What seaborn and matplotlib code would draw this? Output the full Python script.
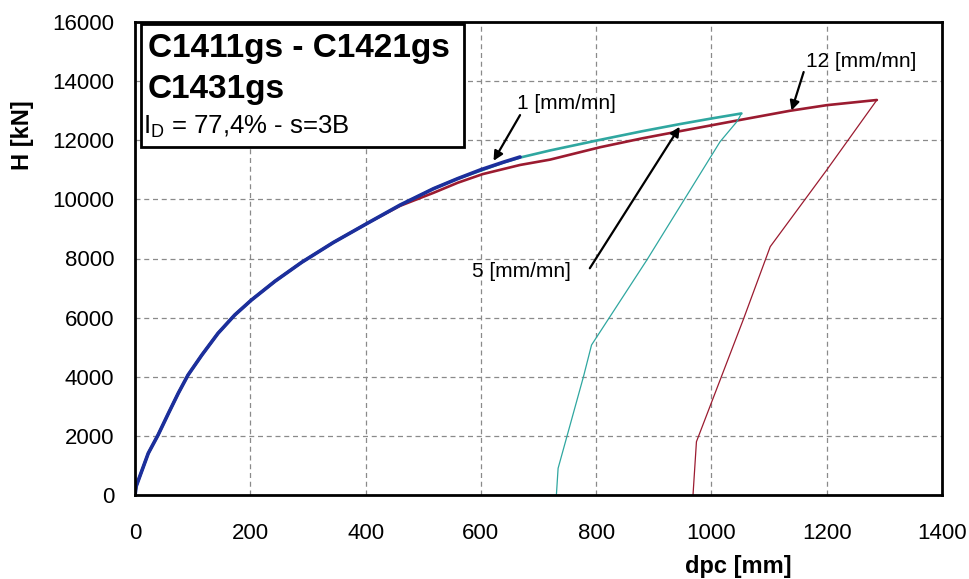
import matplotlib
matplotlib.use("Agg")
import matplotlib.pyplot as plt
import seaborn as sns
import pandas as pd
from matplotlib.patches import Rectangle

# ---------------- data ----------------
# loading branch, rate 1 mm/mn
v1_x = [0, 2, 6, 23, 40, 58, 75, 92, 116, 144, 173, 202, 243, 289, 344, 404, 460, 518, 560, 600, 640, 668]
v1_y = [0, 300, 517, 1419, 2037, 2770, 3446, 4064, 4740, 5473, 6091, 6598, 7234, 7869, 8540, 9200, 9807, 10360, 10700, 11000, 11260, 11430]

# loading branch, rate 5 mm/mn
v5_x = [0, 2, 6, 23, 40, 58, 75, 92, 116, 144, 173, 202, 243, 289, 344, 404, 460, 518, 560, 600, 640, 668, 720, 807, 880, 945, 1000, 1052]
v5_y = [0, 300, 517, 1419, 2037, 2770, 3446, 4064, 4740, 5473, 6091, 6598, 7234, 7869, 8540, 9200, 9807, 10360, 10700, 10970, 11250, 11410, 11650, 12010, 12300, 12540, 12730, 12900]
# unloading branch, rate 5 mm/mn
u5_x = [1052, 1048, 1044, 1015, 888, 792, 778, 734, 731, 685]
u5_y = [12900, 12750, 12620, 11946, 7950, 5078, 4007, 912, 0, 0]

# loading branch, rate 12 mm/mn
v12_x = [0, 2, 6, 23, 40, 58, 75, 92, 116, 144, 173, 202, 243, 289, 344, 404, 460, 518, 560, 603, 668, 720, 807, 880, 945, 1044, 1136, 1200, 1287]
v12_y = [0, 300, 517, 1419, 2037, 2770, 3446, 4064, 4740, 5473, 6091, 6598, 7234, 7869, 8540, 9200, 9780, 10220, 10560, 10850, 11160, 11340, 11760, 12060, 12300, 12660, 12990, 13180, 13355]
# unloading branch, rate 12 mm/mn
u12_x = [1287, 1200, 1102, 1055, 974, 968]
u12_y = [13355, 10990, 8400, 5922, 1811, 0]

x_ticks = [0, 200, 400, 600, 800, 1000, 1200, 1400]
y_ticks = [0, 2000, 4000, 6000, 8000, 10000, 12000, 14000, 16000]

title_lines = ["C1411gs - C1421gs", "C1431gs"]
subtitle = r"$\mathregular{I_D}$ = 77,4% - s=3B"
x_label = "dpc [mm]"
y_label = "H [kN]"

# annotations: label, label position, arrow tail, arrow head
ann_labels = ["1 [mm/mn]", "5 [mm/mn]", "12 [mm/mn]"]
ann_text_pos = [(749, 13250), (670, 7545), (1260, 14640)]
ann_tail = [(668, 12845), (789, 7670), (1160, 14300)]
ann_head = [(622, 11300), (945, 12450), (1139, 13000)]

c_blue = "#1c2f9c"
c_teal = "#2fa7a0"
c_red = "#9b1b30"

# ---------------- style ----------------
sns.set_style("white")
plt.rcParams["font.family"] = ["Liberation Sans", "DejaVu Sans"]
plt.rcParams["mathtext.fontset"] = "custom"
plt.rcParams["mathtext.rm"] = "Liberation Sans"
plt.rcParams["text.color"] = "black"
plt.rcParams["axes.labelcolor"] = "black"

fig = plt.figure(figsize=(9.7, 5.79), dpi=100)
ax = fig.add_axes([135 / 970, 1 - 495.3 / 579, (942 - 135) / 970, (495.3 - 21.7) / 579])

def draw(xs, ys, color, lw):
    df = pd.DataFrame({"x": xs, "y": ys})
    sns.lineplot(data=df, x="x", y="y", sort=False, estimator=None,
                 color=color, lw=lw, ax=ax)

draw(v12_x, v12_y, c_red, 1.9)
draw(u12_x, u12_y, c_red, 0.9)
draw(v5_x, v5_y, c_teal, 1.9)
draw(u5_x, u5_y, c_teal, 0.9)
draw(v1_x, v1_y, c_blue, 2.6)

ax.set_xlim(0, 1400)
ax.set_ylim(0, 16000)
ax.set_xticks(x_ticks)
ax.set_yticks(y_ticks)
ax.set_xticklabels([str(t) for t in x_ticks])
ax.set_yticklabels([str(t) for t in y_ticks])
ax.tick_params(axis="both", which="major", direction="out", length=7, width=1,
               color="#555555", labelsize=16, labelcolor="black")
ax.tick_params(axis="x", pad=13)
ax.tick_params(axis="y", pad=8)

ax.grid(True, color="#8a8a8a", linestyle=(0, (4, 3)), linewidth=0.9)
for s in ax.spines.values():
    s.set_visible(True)
    s.set_color("black")
    s.set_linewidth(2)

ax.set_xlabel(x_label, fontsize=17, fontweight="bold")
ax.set_ylabel(y_label, fontsize=17, fontweight="bold")
ax.xaxis.set_label_coords(0.747, -0.151)
ax.xaxis.label.set_va("center")
ax.yaxis.set_label_coords(-0.14, 0.76)
ax.yaxis.label.set_va("center")

# info box
ax.add_patch(Rectangle((0.008, 0.735), 0.40, 0.261, transform=ax.transAxes,
                       fill=True, facecolor="white", edgecolor="black", lw=2, zorder=5))
ax.text(0.016, 0.925, title_lines[0], transform=ax.transAxes, fontsize=24,
        fontweight="bold", va="baseline", ha="left", zorder=6)
ax.text(0.016, 0.838, title_lines[1], transform=ax.transAxes, fontsize=24,
        fontweight="bold", va="baseline", ha="left", zorder=6)
ax.text(0.010, 0.764, subtitle, transform=ax.transAxes, fontsize=18.5,
        va="baseline", ha="left", zorder=6)

for lab, tp, tl, hd in zip(ann_labels, ann_text_pos, ann_tail, ann_head):
    ax.text(tp[0], tp[1], lab, fontsize=15, ha="center", va="center", zorder=6)
    ax.annotate("", xy=hd, xytext=tl,
                arrowprops=dict(arrowstyle="-|>", color="black", lw=1.6,
                                mutation_scale=14, shrinkA=0, shrinkB=0),
                zorder=6)

fig.savefig("out.png", dpi=100)
